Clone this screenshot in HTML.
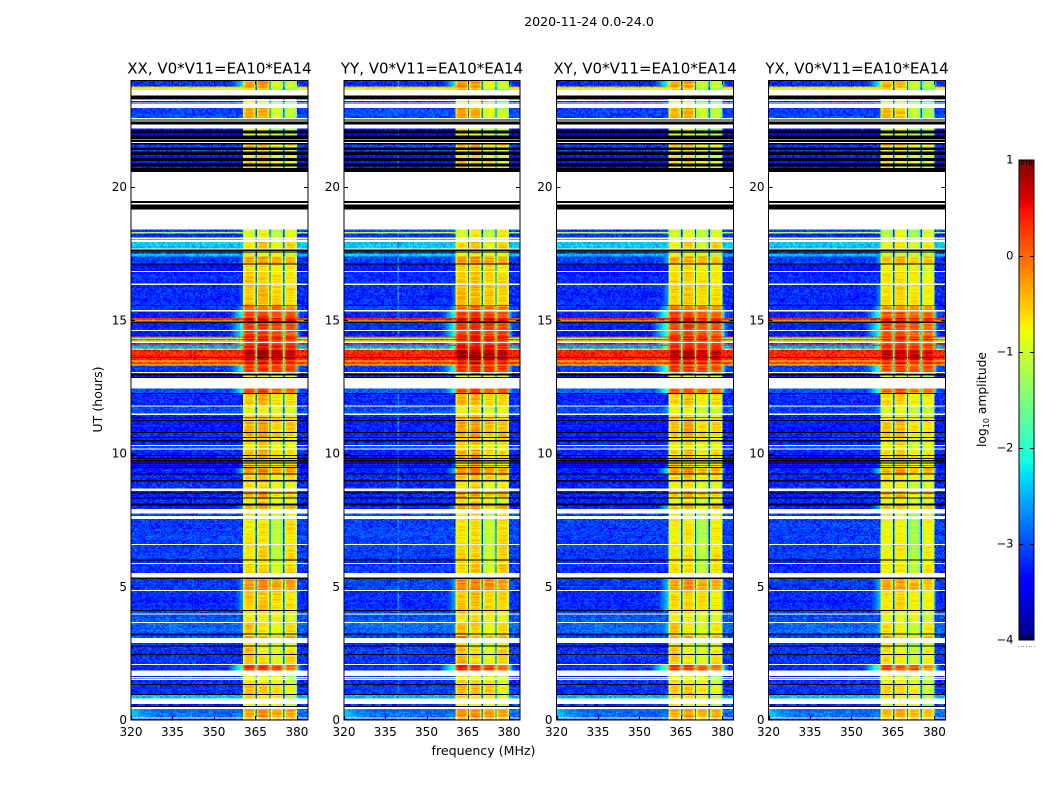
<!DOCTYPE html>
<html lang="en">
<head>
<meta charset="utf-8">
<title>2020-11-24 0.0-24.0</title>
<style>
html,body{margin:0;padding:0;background:#fff;width:1050px;height:800px;overflow:hidden}
svg{display:block}
text{font-family:"DejaVu Sans","Liberation Sans",sans-serif;fill:#000}
</style>
</head>
<body>
<svg id="fig" xmlns="http://www.w3.org/2000/svg" width="1050" height="800" viewBox="0 0 1050 800">
<rect x="0" y="0" width="1050" height="800" fill="#fff"/>
<text x="589" y="26" font-size="12.6" text-anchor="middle">2020-11-24 0.0-24.0</text>
<text x="0" y="0" font-size="12.6" text-anchor="middle" transform="translate(102,399.5) rotate(-90)">UT (hours)</text>
<text x="483.5" y="755" font-size="12.6" text-anchor="middle">frequency (MHz)</text>
<text x="0" y="0" font-size="12.3" text-anchor="middle" transform="translate(986,399.5) rotate(-90)">log<tspan font-size="8" dy="3">10</tspan><tspan dy="-3"> amplitude</tspan></text>
</svg>
<script>
/* ---------- chart data ---------- */
const W = null;   /* flagged, left blank */
const K = -9;     /* zero amplitude, drawn black */

const panelTitles = ["XX, V0*V11=EA10*EA14","YY, V0*V11=EA10*EA14","XY, V0*V11=EA10*EA14","YX, V0*V11=EA10*EA14"];
const freqTicks = [320,335,350,365,380];
const utTicks = [0,5,10,15,20];
const colorTicks = [1,0,-1,-2,-3,-4];

/* upper UT edge of every time band, top of the plot downward */
const bandTop = [
24,23.78,23.73,23.64,23.44,23.31,23.28,23.24,23.20,23.18,
23.13,22.96,22.59,22.54,22.50,22.46,22.35,22.19,22.13,22.02,
21.94,21.81,21.78,21.69,21.65,21.60,21.48,21.40,21.34,21.20,
21.10,20.97,20.88,20.78,20.71,20.56,19.47,19.40,19.35,19.15,
18.41,18.31,18.25,18.10,18.06,18.03,17.94,17.69,17.65,17.61,
17.59,17.55,17.48,17.40,17.13,17.09,16.85,16.81,16.38,16.32,
15.56,15.53,15.38,15.34,15.09,15.00,14.95,14.90,14.63,14.59,
14.40,14.35,14.30,14.25,14.19,14.15,14.10,14.03,13.94,13.88,
13.60,13.58,13.50,13.45,13.35,13.30,13.06,13.02,12.98,12.93,
12.87,12.83,12.45,12.27,12.24,11.81,11.76,11.50,11.45,11.35,
11.33,11.25,11.22,10.81,10.77,10.62,10.59,10.50,10.46,10.32,
10.28,10.19,10.15,9.94,9.90,9.84,9.80,9.75,9.71,9.66,
9.62,9.56,9.53,9.49,9.45,9.25,9.21,9.00,8.96,8.69,
8.59,8.54,8.50,8.35,8.31,8.13,8.05,7.92,7.75,7.65,
7.55,6.60,6.56,6.03,5.99,5.90,5.86,5.52,5.35,5.30,
4.88,4.84,4.13,4.09,4.00,3.96,3.68,3.64,3.25,3.21,
3.15,3.08,2.89,2.80,2.75,2.48,2.44,2.10,2.06,1.85,
1.65,1.61,1.58,1.55,1.51,1.35,1.31,0.98,0.94,0.80,
0.60,0.53,0.49,0.42,0.10,0.06];

/* log10 amplitude outside the 360-380 MHz block, per time band */
const bandLow = [
-3.2,-.4,-.8,W,K,-3.2,W,-3.2,W,-3.2,
W,-3.05,W,K,W,K,W,-3.4,K,-3.4,
K,W,K,W,K,-3.1,K,-3.0,K,-3.3,
K,-3.3,K,-3.3,K,W,K,W,K,W,
-3.1,-1.2,-3.15,W,-3.2,W,-2.4,W,K,-3,
K,-2.9,-2.5,-3.1,K,-3.3,W,-3.2,W,-3.2,
K,-3.15,W,-3.2,.3,-1.6,K,-3.2,W,-3.3,
.25,-1.5,.15,-1.2,W,-3,.15,-2.6,-.5,.35,
K,.35,-.7,.2,-1.0,-3.1,W,-3.1,K,-3.2,
K,W,-3.0,K,-3.2,W,-3.05,W,-3.2,K,
-3.3,K,-3.3,K,-3.2,K,-3.2,K,-3.2,W,
-3.1,W,-3.2,K,-3.3,K,-3.3,K,-3.3,K,
-3.3,K,-3.3,K,-3.2,K,-3.2,K,-3.2,W,
-3.2,K,-3.2,K,-3.2,K,-3.2,W,-3.1,W,
-3.1,W,-3.1,K,-3.2,W,-3.15,W,K,-3.1,
W,-3.2,K,-3.1,W,-3.0,W,-2.9,K,-3.2,
-3,W,-3.2,K,-3.15,K,-3.15,W,-3.2,W,
-3.2,W,-3.1,W,-3.15,K,-3.15,K,-2.5,W,
-3.2,K,W,-2.85,W,-3.2];

/* log10 amplitude inside the 360-380 MHz block, per time band */
const bandHigh = [
-.45,-.3,-.7,0,0,-1,0,-1,0,-1,
0,-.5,0,0,0,0,0,-.9,0,-.9,
0,0,0,0,0,-.5,0,-.8,0,-.7,
0,-.6,0,-.7,0,0,0,0,0,0,
-.9,-.9,-.8,0,-.8,0,-.6,0,0,-.9,
0,-.8,-1,-.35,0,-.7,0,-.6,0,-.55,
0,-.1,0,.15,.5,.4,0,.2,0,.15,
.5,.3,.5,0,0,.2,.4,.4,.3,.75,
0,.7,0,.5,-.3,.25,0,.1,0,-.8,
0,0,.15,0,-.5,0,-.8,0,-.7,0,
-.4,0,-.4,0,-.4,0,-.6,0,-.6,0,
-.7,0,-.5,0,-.4,0,-.5,0,-.5,0,
-.6,0,-.5,0,-.2,0,-.55,0,-.7,0,
-.4,0,-.4,0,-.7,0,-.4,0,-.8,0,
-.75,0,-.7,0,-.7,0,-.65,0,0,-.3,
0,-.6,0,-.7,0,-.8,0,-.55,0,-.7,
-.25,0,-.8,0,-.6,0,-.55,0,.2,0,
-.8,0,-.8,0,-.7,0,-.55,0,-.7,0,
-.8,0,0,-.4,0,-.5];

/* spill-over beside the 360-380 MHz block */
const glowTop = [24,17.55,16.32,15.56,15.38,12.45,11.81,9.45,8.05,5.30,4.84,3.64,2.06];
const glowEnd = [23.78,17.13,15.56,15.38,12.98,12.24,11.50,9.25,7.92,4.88,4.13,3.25,1.85];
const glowLevel = [-2.3,-2.8,-2.9,-2.6,-2.1,-2.1,-2.8,-2.5,-2.6,-2.7,-2.6,-2.7,-1.9];

/* sub-band offsets, by UT range */
const subTop = [24,22.6,18.41,17.55,13,8,5.3,3.64,2.1,0.42];
const subA = [.15,.1,-.1,.05,0,.05,.05,.1,.1,.1];
const subB = [.15,.1,.1,.1,.1,.1,.1,-.1,.05,.15];
const subC = [-.45,-.15,-.25,0,-.15,-.35,0,-.3,-.05,.05];
const subD = [-.55,-.2,.05,-.05,-.1,.1,-.05,-.05,-.3,.05];

/* profile across one sub-band, nine 0.5 MHz channels */
const subShape = [-.4,-.08,0,.02,.02,.02,0,-.08,-.38];

/* brighter patches in the quiet part of the band */
const patchFreqStart = [320,334];
const patchFreqEnd = [333,346];
const patchUtTop = [0.42,3.64];
const patchUtEnd = [0.10,3.25];
const patchLevel = [-2.4,-2.7];

/* per-panel adjustments */
const panelHigh = [0,.05,-.05,-.12];
const panelGlow = [0,.05,.25,.15];
const panelLow = [0,.03,0,0];
const panelSpurChannel = [-1,39,-1,-1];
const spurLevel = -2.75;

const scatter = [.6,-.4,.1,-.9,.8,.3,-.2,-.7,1,-.1,.5,-.6,.2,-1,.7,.4,-.3,.9,-.8,0,.35,-.55,.75,-.25,.15,-.85,.55,.95,-.45,.05,-.65,.45,-.15,.85,-.75,.25,-.35,.65,-.95,.12,-.05];

/* ---------- axes ---------- */
const panelLeft = [131,344,556.5,768.5];
const panelSpan = [177,176,177,177];
const plotTop = 80.5, plotBottom = 720;
const freqMin = 320, freqMax = 384, utMin = 0, utMax = 24, nChan = 128;
const cbLeft = 1019, cbRight = 1034, cbTop = 160, cbBottom = 640;
const colorMin = -4, colorMax = 1;

function xScale(p, f){ return panelLeft[p] + (f - freqMin) / (freqMax - freqMin) * panelSpan[p]; }
function yScale(u){ return plotBottom - (u - utMin) / (utMax - utMin) * (plotBottom - plotTop); }
function cScale(v){ return cbBottom - (v - colorMin) / (colorMax - colorMin) * (cbBottom - cbTop); }

const jetR = [[0,0],[.35,0],[.66,1],[.89,1],[1,.5]];
const jetG = [[0,0],[.125,0],[.375,1],[.64,1],[.91,0],[1,0]];
const jetB = [[0,.5],[.11,1],[.34,1],[.65,0],[1,0]];
function seg(s, t){
  for (let i = 1; i < s.length; i++) {
    if (t <= s[i][0]) return s[i-1][1] + (s[i][1]-s[i-1][1]) * (t-s[i-1][0]) / (s[i][0]-s[i-1][0]);
  }
  return s[s.length-1][1];
}
function jet(t){
  t = Math.max(0, Math.min(1, t));
  return 'rgb(' + Math.round(255*seg(jetR,t)) + ',' + Math.round(255*seg(jetG,t)) + ',' + Math.round(255*seg(jetB,t)) + ')';
}

const NS = 'http://www.w3.org/2000/svg';
const fig = document.getElementById('fig');
function mk(tag, attrs, parent){
  const el = document.createElementNS(NS, tag);
  for (const k in attrs) el.setAttribute(k, attrs[k]);
  (parent || fig).appendChild(el);
  return el;
}

function rangeIndex(u){
  let s = 0;
  for (let i = 0; i < subTop.length; i++) if (u <= subTop[i]) s = i;
  return s;
}
function glowAt(u){
  for (let i = 0; i < glowTop.length; i++) if (u <= glowTop[i] && u > glowEnd[i]) return glowLevel[i];
  return null;
}
function patchAt(u, f){
  for (let i = 0; i < patchLevel.length; i++) {
    if (u <= patchUtTop[i] && u > patchUtEnd[i] && f >= patchFreqStart[i] && f < patchFreqEnd[i]) {
      return patchLevel[i] - (f - patchFreqStart[i]) / (patchFreqEnd[i] - patchFreqStart[i]) * .6;
    }
  }
  return null;
}

function cellValue(p, bandIdx, u, ch, r){
  const low = bandLow[bandIdx] + panelLow[p];
  const high = bandHigh[bandIdx] + panelHigh[p];
  const sc = scatter[(ch*7 + r*13 + (ch*r)%17) % scatter.length];
  if (ch >= 81 && ch < 120) {
    const k = ch - 81;
    const pos = k % 10;
    const sub = Math.floor(k / 10);
    if (pos === 9) return high - 2.3 + sc*.2;
    const si = rangeIndex(u);
    const off = [subA,subB,subC,subD][sub][si];
    const rowSc = scatter[(r*3 + sub*11 + p*5) % scatter.length];
    return high + off + subShape[pos] + sc*.07 + rowSc*.16;
  }
  const rowLow = scatter[(r*5 + p*3) % scatter.length];
  let v = low + sc*.27 + rowLow*.07;
  const f = freqMin + ch*.5;
  const patch = patchAt(u, f);
  if (patch !== null) v = Math.max(v, patch + sc*.25);
  const g = glowAt(u);
  if (g !== null) {
    const gg = g + panelGlow[p];
    const edge = ch <= 80 ? gg - (80-ch)*.12 : gg - .4 - (ch-120)*.3;
    v = Math.max(v, edge + sc*.12);
  }
  if (ch === panelSpurChannel[p] && low < -2) v = spurLevel + sc*.3;
  return v;
}

function drawPanel(p){
  const g = mk('g', {'shape-rendering':'crispEdges'});
  
  
  const levels = 128;
  const buckets = {};
  const blacks = [];
  let r = 0;
  const cw = panelSpan[p] / nChan;
  for (let b = 0; b < bandTop.length; b++) {
    const top = bandTop[b];
    const bottom = b + 1 < bandTop.length ? bandTop[b+1] : utMin;
    const n = Math.max(1, Math.round((top - bottom) / .05));
    const du = (top - bottom) / n;
    for (let j = 0; j < n; j++) {
      r++;
      if (bandLow[b] === W) continue;
      const uT = top - j*du;
      const y0 = yScale(uT);
      const h = yScale(uT - du) - y0;
      if (bandLow[b] === K) {
        blacks.push('M' + xScale(p,freqMin).toFixed(2) + ' ' + y0.toFixed(2) + 'h' + panelSpan[p] + 'v' + h.toFixed(2) + 'h-' + panelSpan[p] + 'z');
        continue;
      }
      for (let ch = 0; ch < nChan; ch++) {
        const v = cellValue(p, b, uT - du/2, ch, r);
        const q = Math.max(0, Math.min(levels-1, Math.floor((v-colorMin)/(colorMax-colorMin)*levels)));
        const x = xScale(p, freqMin + ch*.5);
        (buckets[q] = buckets[q] || []).push('M' + x.toFixed(2) + ' ' + y0.toFixed(2) + 'h' + cw.toFixed(3) + 'v' + h.toFixed(2) + 'h-' + cw.toFixed(3) + 'z');
      }
    }
  }
  for (const q in buckets) {
    const path = mk('path', {d: buckets[q].join(''), fill: jet((+q+.5)/levels)}, g);
    
    
  }
  const blackPath = mk('path', {d: blacks.join(''), fill: '#000'}, g);
  
  
}

function drawAxes(p){
  const x0 = xScale(p, freqMin), x1 = xScale(p, freqMax);
  const frame = mk('rect', {x:x0, y:plotTop, width:x1-x0, height:plotBottom-plotTop, fill:'none', stroke:'#000', 'stroke-width':1});
  
  
  const title = mk('text', {x:(x0+x1)/2, y:73.5, 'font-size':15, 'text-anchor':'middle'});
  
  
  title.textContent = panelTitles[p];

  freqTicks.forEach(function(f){
    const x = Math.round(xScale(p, f)) + .5;
    const tb = mk('line', {x1:x, x2:x, y1:plotBottom, y2:plotBottom-4, stroke:'#000', 'stroke-width':1});
    
    
    const tt = mk('line', {x1:x, x2:x, y1:plotTop, y2:plotTop+4, stroke:'#000', 'stroke-width':1});
    
    
    const lab = mk('text', {x:xScale(p,f), y:736, 'font-size':12, 'text-anchor':'middle'});
    
    
    lab.textContent = f;
  });
  utTicks.forEach(function(u){
    const y = Math.round(yScale(u)) + (u === 0 ? 0 : .5);
    if (u !== 0) {
      const tl = mk('line', {x1:x0, x2:x0+4, y1:y, y2:y, stroke:'#000', 'stroke-width':1});
      
      
      const tr = mk('line', {x1:x1, x2:x1-4, y1:y, y2:y, stroke:'#000', 'stroke-width':1});
      
      
    }
    const lab = mk('text', {x:x0-4, y:yScale(u)+4, 'font-size':12, 'text-anchor':'end'});
    
    
    lab.textContent = u;
  });
}

function drawColorbar(){
  const g = mk('g', {'shape-rendering':'crispEdges'});
  
  
  for (let y = cbTop; y < cbBottom; y++) {
    const v = colorMin + (cbBottom - y - .5) / (cbBottom - cbTop) * (colorMax - colorMin);
    const s = mk('rect', {x:cbLeft, y:y, width:cbRight-cbLeft, height:1, fill:jet((v-colorMin)/(colorMax-colorMin))}, g);
    
    
  }
  const frame = mk('rect', {x:cbLeft, y:cbTop, width:cbRight-cbLeft, height:cbBottom-cbTop, fill:'none', stroke:'#000', 'stroke-width':1});
  
  
  colorTicks.forEach(function(v){
    const y = Math.round(cScale(v)) + .5;
    if (v !== colorMax && v !== colorMin) {
      const a = mk('line', {x1:cbLeft, x2:cbLeft+4, y1:y, y2:y, stroke:'#000', 'stroke-width':1});
      
      
      const b = mk('line', {x1:cbRight, x2:cbRight-4, y1:y, y2:y, stroke:'#000', 'stroke-width':1});
      
      
    }
    const lab = mk('text', {x:1013.5, y:cScale(v)+3.5, 'font-size':11.5, 'text-anchor':'end'});
    
    
    lab.textContent = (v < 0 ? '\u2212' + Math.abs(v) : String(v));
  });
  for (let i = 0; i <= 6; i++) {
    const x = Math.round(cbLeft - 1 + i*(cbRight-cbLeft+1)/6) + .5;
    if (i > 0 && i < 6) {
      const t = mk('line', {x1:x, x2:x, y1:cbTop, y2:cbTop+5, stroke:'#000', 'stroke-width':1});
      
      
      const u = mk('line', {x1:x, x2:x, y1:cbBottom, y2:cbBottom-5, stroke:'#000', 'stroke-width':1});
      
      
    }
    const d = mk('rect', {x:x-.5, y:646, width:1, height:1, fill:'#999'});
    
    
  }
}

for (let p = 0; p < panelLeft.length; p++) { drawPanel(p); drawAxes(p); }
drawColorbar();
</script>
</body>
</html>
